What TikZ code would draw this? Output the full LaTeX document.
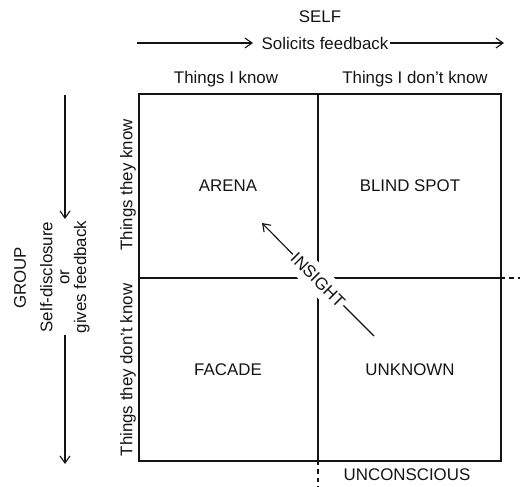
\documentclass[tikz,border=0pt]{standalone}
\usepackage{fontspec}
\setmainfont{Liberation Sans}
\usepackage{tikz}
\usetikzlibrary{arrows.meta, positioning}
\definecolor{ink}{RGB}{20,20,20}
\tikzset{
  heading/.style={font=\fontsize{12}{13}\selectfont, text=ink, inner sep=1pt},
  quad/.style={font=\fontsize{12}{13}\selectfont, text=ink},
  sidetext/.style={font=\fontsize{12}{12}\selectfont, text=ink, rotate=90, inner sep=1pt},
  arrow/.style={-{Straight Barb[length=5pt,width=7pt]}, line width=0.8pt, color=ink},
  line/.style={line width=0.8pt, color=ink},
  frame/.style={line width=1.3pt, color=ink},
  extend/.style={dashed, line width=0.8pt, color=ink}
}

\begin{document}
\begin{tikzpicture}[x=0.025cm, y=-0.025cm]
  \useasboundingbox (0,0) rectangle (520,487);

  % Window frame
  \coordinate (nw) at (139,94);
  \coordinate (se) at (501,461);
  \coordinate (top) at (318,94);
  \coordinate (bot) at (318,461);
  \coordinate (lft) at (139,278);
  \coordinate (rgt) at (501,278);
  \coordinate (rgtend) at (520,278);
  \coordinate (botend) at (318,487);
  \draw[frame] (nw) rectangle (se);
  \draw[frame] (top) -- (bot);
  \draw[frame] (lft) -- (rgt);
  \draw[extend] (rgt) -- (rgtend);
  \draw[extend] (bot) -- (botend);

  % Self axis
  \node[heading] (self) at (320,17) {SELF};
  \node[heading] (solicits) at (325,43) {Solicits feedback};
  \coordinate (sfstart) at (137,43);
  \coordinate (sfend) at (504,43);
  \draw[arrow, shorten >=5pt] (sfstart) -- (solicits.west);
  \draw[arrow] (solicits.east) -- (sfend);
  \node[heading] (iknow) at (226,79) {Things I know};
  \node[heading] (idont) at (415,79) {Things I don't know};

  % Group axis
  \node[sidetext] (group) at (20,278) {GROUP};
  \node[sidetext, align=center] (disclose) at (65,277) {Self-disclosure\\or\\gives feedback};
  \coordinate (gdstart) at (65,95);
  \coordinate (gdend) at (65,464);
  \draw[arrow] (gdstart) -- (disclose.east);
  \draw[arrow] (disclose.west) -- (gdend);
  \node[sidetext] (theyknow) at (128,185) {Things they know};
  \node[sidetext] (theydont) at (128,370) {Things they don't know};

  % Quadrants
  \node[quad] (arena) at (228,186) {ARENA};
  \node[quad] (blind) at (410,186) {BLIND SPOT};
  \node[quad] (facade) at (228,370) {FACADE};
  \node[quad] (unknown) at (410,370) {UNKNOWN};
  \node[quad] (uncon) at (407,475) {UNCONSCIOUS};

  % Insight
  \node[quad, rotate=-45, fill=white, inner xsep=1pt, inner ysep=5pt] (insight) at (318,280) {INSIGHT};
  \coordinate (ifrom) at (374,336);
  \coordinate (ito) at (262,223);
  \draw[line] (ifrom) -- (insight);
  \draw[arrow] (insight) -- (ito);
\end{tikzpicture}
\end{document}
